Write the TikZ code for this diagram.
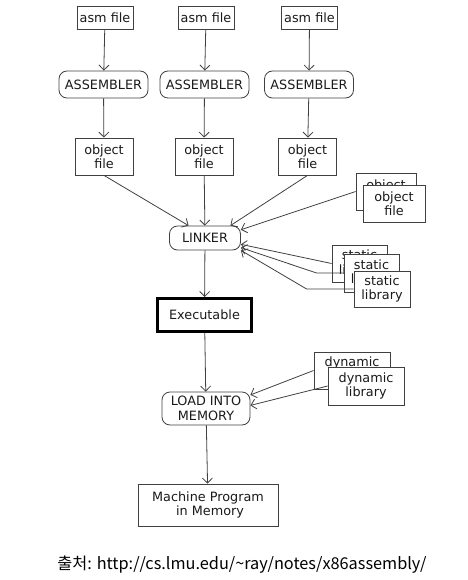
\documentclass[tikz,border=0pt]{standalone}
\usepackage{fontspec}
\setmainfont{DejaVu Sans}
\newfontfamily\krfont{Noto Sans CJK KR}
\usetikzlibrary{arrows.meta}
\definecolor{ln}{HTML}{404040}
\definecolor{tx}{HTML}{1a1a1a}
\tikzset{
  box/.style={draw=ln, line width=0.8pt, fill=white, text=tx, inner sep=0pt, align=center,
    font=\fontsize{12.8}{14.5}\selectfont},
  rbox/.style={box, rounded corners=8pt},
  arr/.style={draw=ln, line width=0.8pt, -{Straight Barb[length=5pt,width=10pt]}},
}
\begin{document}
\begin{tikzpicture}[x=1pt,y=-1pt]
\useasboundingbox (0,0) rectangle (467,580);
% asm files
\node[box, minimum width=56, minimum height=23] (a1) at (105,17.5) {asm file};
\node[box, minimum width=56, minimum height=23] (a2) at (206,17.5) {asm file};
\node[box, minimum width=56, minimum height=23] (a3) at (309.5,17.5) {asm file};
% assemblers
\node[rbox, minimum width=89, minimum height=27] (s1) at (103.5,84.5) {ASSEMBLER};
\node[rbox, minimum width=89, minimum height=27] (s2) at (204.5,84.5) {ASSEMBLER};
\node[rbox, minimum width=89, minimum height=27] (s3) at (309,84.5) {ASSEMBLER};
% object files
\node[box, minimum width=58, minimum height=37] (o1) at (104,156.5) {object\\file};
\node[box, minimum width=58, minimum height=37] (o2) at (204,156.5) {object\\file};
\node[box, minimum width=58, minimum height=37] (o3) at (307.5,156.5) {object\\file};
% linker
\node[rbox, minimum width=71, minimum height=24] (lk) at (205,238) {LINKER};
% stacked object files
\node[box, minimum width=60, minimum height=37] (ob) at (386,191.5) {object\\file};
\node[box, minimum width=62, minimum height=37] (of) at (394,203.5) {object\\file};
% static libraries
\node[box, minimum width=55, minimum height=37] (l1) at (359.5,263.5) {static\\library};
\node[box, minimum width=55, minimum height=38] (l2) at (371.5,273) {static\\library};
\node[box, minimum width=56, minimum height=36] (l3) at (382,289) {static\\library};
% executable
\node[box, line width=3pt, draw=black, minimum width=94, minimum height=33] (ex) at (204.5,315) {Executable};
% load
\node[rbox, minimum width=88, minimum height=33] (ld) at (206,408.5) {LOAD INTO\\MEMORY};
% dynamic libraries
\node[box, minimum width=76, minimum height=37] (d1) at (352,370.5) {dynamic\\library};
\node[box, minimum width=76, minimum height=38] (d2) at (366,386) {dynamic\\library};
% machine program
\node[box, minimum width=140, minimum height=42] (mp) at (208,505) {Machine Program\\\ in Memory};
% caption
\node[text=black, font=\krfont\fontsize{16.3}{18}\selectfont, inner sep=0pt] (cap) at (242,565) {출처: http://cs.lmu.edu/\textasciitilde ray/notes/x86assembly/};
% connectors
\draw[arr] (a1) -- (s1);
\draw[arr] (a2) -- (s2);
\draw[arr] (a3) -- (s3);
\draw[arr] (s1) -- (o1);
\draw[arr] (s2) -- (o2);
\draw[arr] (s3) -- (o3);
\draw[arr] (o1.south) -- (lk.143);
\draw[arr] (o2) -- (lk);
\draw[arr] (o3.south) -- (lk.26);
\draw[arr] (ob.west) -- (lk.13);
\draw[arr] (l1.west) -- (lk.-10);
\draw[arr] (l2.west) -- ++(-27,0) -- (lk.-15);
\draw[arr] (l3.west) -- ++(-47,0) -- (lk.-19);
\draw[arr] (lk) -- (ex);
\draw[arr] (ex) -- (ld);
\draw[arr] (d1.west) -- (ld.17);
\draw[arr] (d2.west) -- (ld.4.5);
\draw[arr] (ld) -- (mp);
\end{tikzpicture}
\end{document}
